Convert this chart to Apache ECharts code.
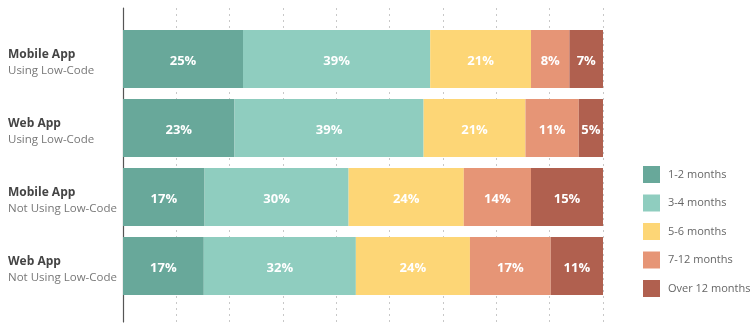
<!DOCTYPE html>
<html><head><meta charset="utf-8">
<script src="https://cdn.jsdelivr.net/npm/echarts@6/dist/echarts.min.js"></script>
<style>html,body{margin:0;padding:0;background:#fff}#c{width:750px;height:326px}</style>
</head><body><div id="c"></div>
<script>
const appTypes = ['Mobile App', 'Web App', 'Mobile App', 'Web App'];
const usage = ['Using Low-Code', 'Using Low-Code', 'Not Using Low-Code', 'Not Using Low-Code'];
const seriesNames = ['1-2 months', '3-4 months', '5-6 months', '7-12 months', 'Over 12 months'];
const m1_2 = [25, 23, 17, 17];
const m3_4 = [39, 39, 30, 32];
const m5_6 = [21, 21, 24, 24];
const m7_12 = [8, 11, 14, 17];
const over12 = [7, 5, 15, 11];
const colors = ['#68a89a', '#8fcdbf', '#fdd676', '#e69576', '#b0604f'];

const all = [m1_2, m3_4, m5_6, m7_12, over12];
const cats = appTypes.map((a, i) => a + '\n' + usage[i]);
const rowSum = cats.map((_, i) => all.reduce((s, arr) => s + arr[i], 0));

const chart = echarts.init(document.getElementById('c'));
chart.setOption({
  animation: false,
  legend: {
    orient: 'vertical', left: 643, top: 166, itemWidth: 17, itemHeight: 17, itemGap: 11.5,
    padding: 0, icon: 'rect',
    textStyle: { color: '#666', fontSize: 11, fontFamily: 'Open Sans', padding: [0, 0, 0, 3] },
    data: seriesNames
  },
  grid: [
    { left: 123, right: 147, top: 24.5, bottom: 25.5 },
    { left: 123, right: 147, top: 8, bottom: 4 }
  ],
  xAxis: [
    { gridIndex: 0, type: 'value', min: 0, max: 100, show: false },
    { gridIndex: 1, type: 'value', min: 0, max: 100, interval: 100 / 9,
      axisLine: { show: false }, axisTick: { show: false }, axisLabel: { show: false },
      splitLine: { show: true, lineStyle: { color: '#c8c8c8', type: [2, 4], width: 1 } } }
  ],
  yAxis: [
    { gridIndex: 0, type: 'category', inverse: true, data: cats,
      axisLine: { show: false }, axisTick: { show: false },
      axisLabel: {
        align: 'left', margin: 115, padding: [7, 0, 0, 0],
        formatter: (v) => { const p = v.split('\n'); return '{a|' + p[0] + '}\n{b|' + p[1] + '}'; },
        rich: {
          a: { fontFamily: 'Open Sans', fontSize: 12, fontWeight: 'bold', color: '#444', lineHeight: 16 },
          b: { fontFamily: 'Open Sans', fontSize: 11.5, color: '#777', lineHeight: 16 }
        }
      } },
    { gridIndex: 1, type: 'category', data: ['a'],
      axisLine: { show: true, lineStyle: { color: '#555', width: 1.2 } },
      axisTick: { show: false }, axisLabel: { show: false }, splitLine: { show: false } }
  ],
  series: all.map((arr, k) => ({
    name: seriesNames[k], type: 'bar', stack: 'total', xAxisIndex: 0, yAxisIndex: 0,
    barWidth: 58,
    itemStyle: { color: colors[k] },
    label: { show: true, position: 'inside', offset: [0, 2], color: '#fff', fontFamily: 'Open Sans', fontWeight: 'bold', fontSize: 13,
      formatter: (p) => arr[p.dataIndex] + '%' },
    data: arr.map((v, i) => v / rowSum[i] * 100)
  }))
});
</script></body></html>
